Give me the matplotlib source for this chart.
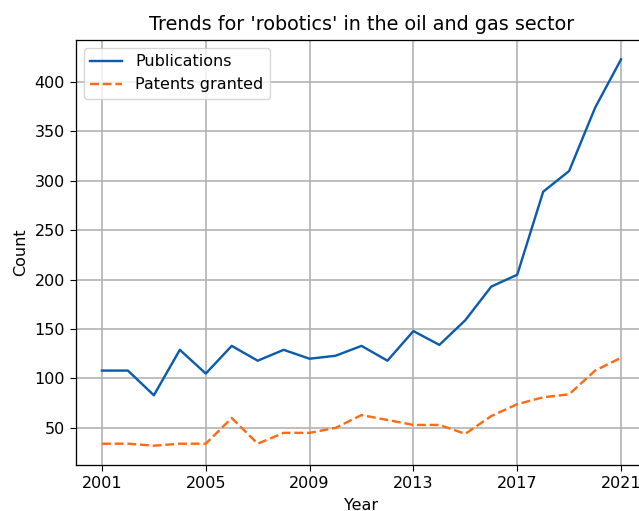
import matplotlib
matplotlib.use("Agg")
import matplotlib.pyplot as plt

years = list(range(2001, 2022))
publications = [108, 108, 83, 129, 105, 133, 118, 129, 120, 123, 133,
                118, 148, 134, 159, 193, 205, 289, 310, 374, 423]
patents = [34, 34, 32, 34, 34, 60, 34, 45, 45, 50, 63,
           58, 53, 53, 44, 62, 74, 81, 84, 108, 121]
xticks = [2001, 2005, 2009, 2013, 2017, 2021]

# reference looks like a 100-dpi figure rendered ~15% larger, then cropped
s = 1.15
plt.rcParams["font.size"] = 10 * s
plt.rcParams["xtick.major.size"] = 3.5 * s
plt.rcParams["ytick.major.size"] = 3.5 * s
plt.rcParams["xtick.major.pad"] = 3.5 * s
plt.rcParams["ytick.major.pad"] = 3.5 * s
plt.rcParams["axes.linewidth"] = 0.8 * s

fig = plt.figure(figsize=(6.39, 5.11), dpi=100)
# axes run a little past the right edge, as in the reference crop
ax = fig.add_axes([76 / 639, 46 / 511, 571 / 639, 425 / 511])

ax.plot(years, publications, "-", color="#0b5cad", lw=1.5 * s, label="Publications")
ax.plot(years, patents, "--", color="#ff6a13", lw=1.5 * s, label="Patents granted",
        dashes=(3.7, 1.6))

ax.set_xticks(xticks)
ax.set_xlabel("Year", labelpad=4 * s)
ax.set_ylabel("Count", labelpad=4 * s)
ax.set_title("Trends for 'robotics' in the oil and gas sector", fontsize=12 * s, pad=6 * s)
ax.grid(True, color="#b0b0b0", lw=1.0 * s)
ax.legend(loc="upper left")

fig.savefig("out.png", dpi=100)
